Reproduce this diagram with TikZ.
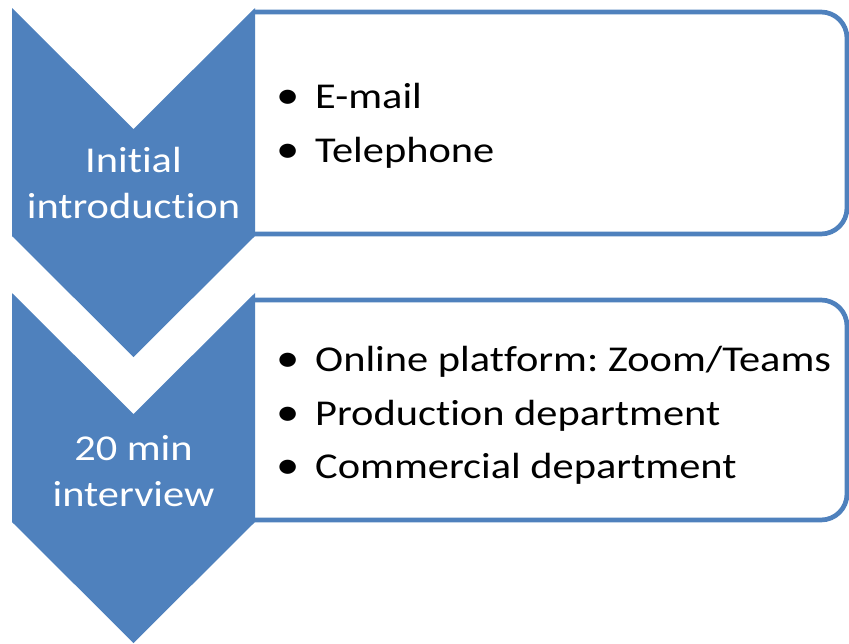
\documentclass[tikz,border=0pt]{standalone}
\usepackage{fontspec}
\setmainfont{Carlito}[FakeStretch=1.165, Ligatures={NoCommon}]
\usepackage{tikz}
\frenchspacing

\definecolor{stepblue}{HTML}{4F81BD}

\tikzset{
    chevron/.style={fill=stepblue, draw=none},
    infobox/.style={draw=stepblue, line width=4.7pt, fill=white, rounded corners=26pt},
    chevlabel/.style={text=white, align=center, anchor=base, inner sep=0pt,
        font=\fontsize{36.4}{46}\selectfont},
    bulletdot/.style={anchor=base, inner sep=0pt, font=\fontsize{40}{54}\selectfont},
    itemtext/.style={anchor=base west, inner sep=0pt, font=\fontsize{36.4}{54}\selectfont}
}

\begin{document}
\begin{tikzpicture}[x=1pt, y=-1pt]

\useasboundingbox (0,0) rectangle (849,643);

% Boxes behind the arrows, only the right side is rounded
\fill[white] (255,12) rectangle (847,234);
\draw[infobox] (255,12) -- (847,12) -- (847,234) -- (255,234);
\fill[white] (255,300) rectangle (847,520);
\draw[infobox] (255,300) -- (847,300) -- (847,520) -- (255,520);

% First arrow
\fill[chevron] (12,8) -- (133.5,129) -- (255,8) -- (255,236) -- (133.5,357) -- (12,236) -- cycle;
\node[chevlabel] (intro) at (133.5,218) {Initial\\introduction};

% Second arrow
\fill[chevron] (12,293) -- (133.5,414) -- (255,293) -- (255,522) -- (133.5,643) -- (12,522) -- cycle;
\node[chevlabel] (interview) at (133.5,506) {20 min\\interview};

% Contact items
\node[bulletdot] (b1) at (288,108) {\textbullet};
\node[itemtext] (email) at (315,108) {E-mail};
\node[bulletdot] (b2) at (288,162) {\textbullet};
\node[itemtext] (phone) at (315,162) {Telephone};

% Interview items
\node[bulletdot] (b3) at (288,371) {\textbullet};
\node[itemtext] (online) at (315,371) {Online platform: Zoom/Teams};
\node[bulletdot] (b4) at (288,425) {\textbullet};
\node[itemtext] (prod) at (315,425) {Production department};
\node[bulletdot] (b5) at (288,478) {\textbullet};
\node[itemtext] (comm) at (315,478) {Commercial department};

\end{tikzpicture}
\end{document}
